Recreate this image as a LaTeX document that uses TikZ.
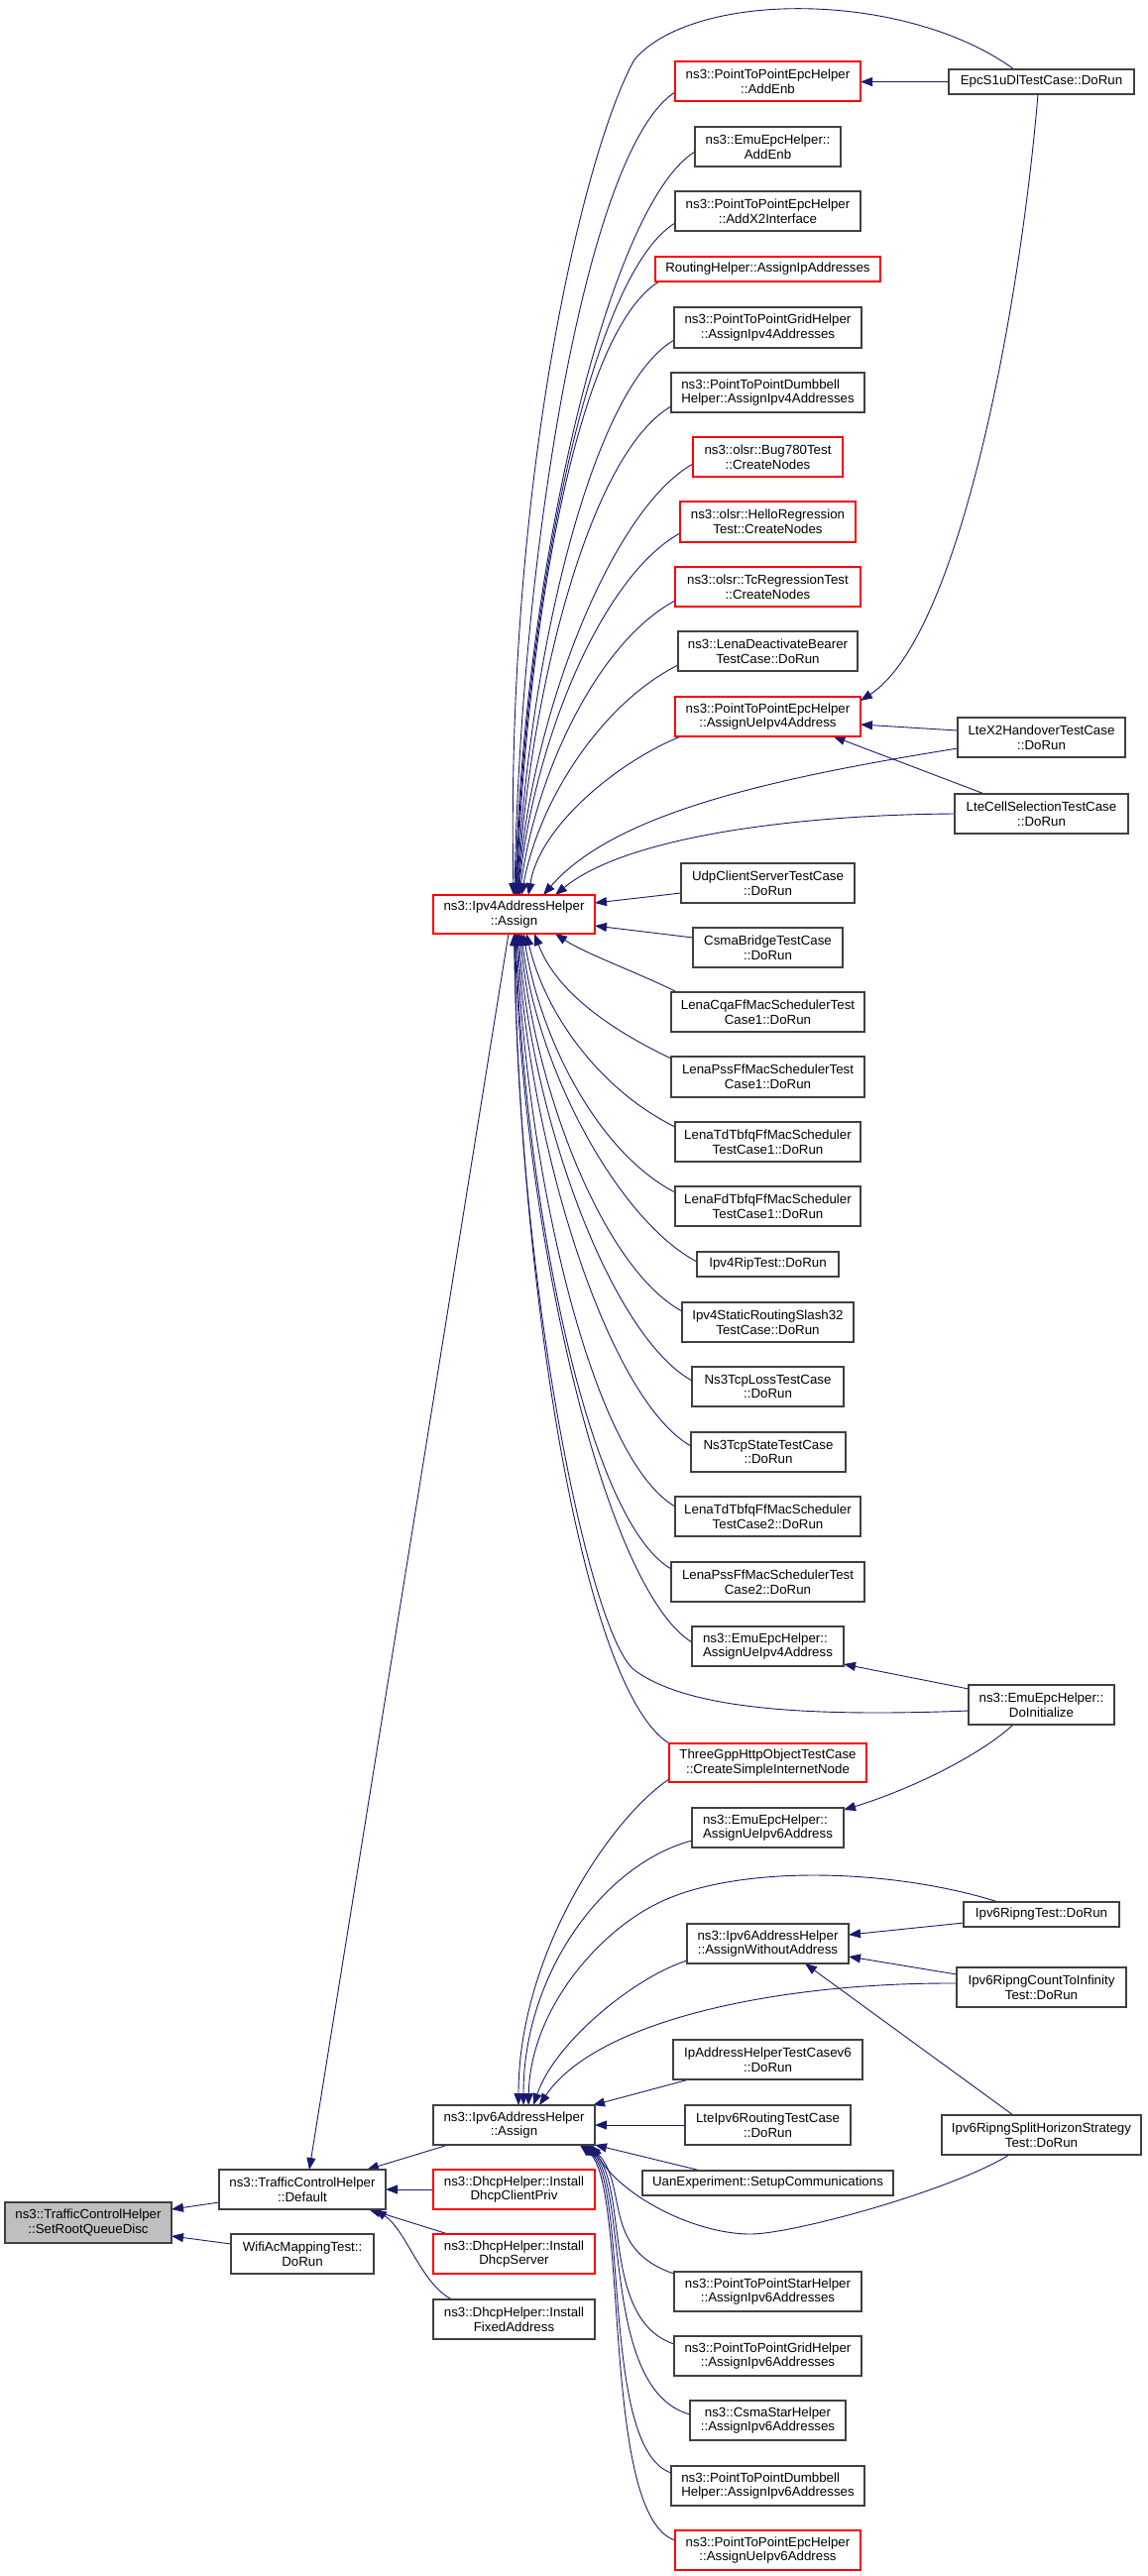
\documentclass[tikz,border=0pt]{standalone}
\usepackage{fontspec}
\setmainfont{Liberation Sans}
\usetikzlibrary{arrows.meta}
\definecolor{edgec}{RGB}{25,25,112}
\definecolor{boxred}{RGB}{255,0,0}
\definecolor{boxgray}{RGB}{191,191,191}
\pgfdeclarelayer{bg}
\pgfsetlayers{bg,main}
\begin{document}
\begin{tikzpicture}[x=1pt,y=-1pt,
  bx/.style={draw=black!75, line width=1.1pt, fill=white, inner sep=0pt, outer sep=0pt, align=center, font=\fontsize{13.3}{14.6}\selectfont},
  bxr/.style={bx, draw=boxred},
  e/.style={draw=edgec, line width=0.9pt, -{Triangle[length=12pt,width=9pt]}}]
\path[use as bounding box] (0,0) rectangle (1157,2599);

% left column
\node[bx, fill=boxgray, minimum width=168pt, minimum height=41pt] (SetRoot) at (89,2242.5) {ns3::TrafficControlHelper\\::SetRootQueueDisc};
\node[bx, minimum width=168pt, minimum height=40pt] (Default) at (305,2209) {ns3::TrafficControlHelper\\::Default};
\node[bx, minimum width=144pt, minimum height=40pt] (Wifi) at (305,2274) {WifiAcMappingTest::\\DoRun};
\node[bxr, minimum width=163pt, minimum height=39pt] (Ipv4A) at (518.5,922.5) {ns3::Ipv4AddressHelper\\::Assign};
\node[bx, minimum width=163pt, minimum height=40pt] (Ipv6A) at (518.5,2144) {ns3::Ipv6AddressHelper\\::Assign};
\node[bxr, minimum width=163pt, minimum height=40pt] (DhcpCP) at (518.5,2209) {ns3::DhcpHelper::Install\\DhcpClientPriv};
\node[bxr, minimum width=163pt, minimum height=40pt] (DhcpS) at (518.5,2274) {ns3::DhcpHelper::Install\\DhcpServer};
\node[bx, minimum width=163pt, minimum height=40pt] (DhcpF) at (518.5,2340) {ns3::DhcpHelper::Install\\FixedAddress};

% middle column
\node[bxr, minimum width=187pt, minimum height=40pt] (m1) at (774.5,82) {ns3::PointToPointEpcHelper\\::AddEnb};
\node[bx, minimum width=147pt, minimum height=40pt] (m2) at (774.5,148) {ns3::EmuEpcHelper::\\AddEnb};
\node[bx, minimum width=187pt, minimum height=40pt] (m3) at (774.5,213) {ns3::PointToPointEpcHelper\\::AddX2Interface};
\node[bxr, minimum width=227pt, minimum height=25pt] (m4) at (774.5,271.5) {RoutingHelper::AssignIpAddresses};
\node[bx, minimum width=189pt, minimum height=41pt] (m5) at (774.5,330.5) {ns3::PointToPointGridHelper\\::AssignIpv4Addresses};
\node[bx, align=left, minimum width=195pt, minimum height=40pt] (m6) at (774.5,396) {ns3::PointToPointDumbbell\\Helper::AssignIpv4Addresses};
\node[bxr, minimum width=151pt, minimum height=40pt] (m7) at (774.5,461) {ns3::olsr::Bug780Test\\::CreateNodes};
\node[bxr, minimum width=177pt, minimum height=41pt] (m8) at (774.5,526.5) {ns3::olsr::HelloRegression\\Test::CreateNodes};
\node[bxr, minimum width=187pt, minimum height=40pt] (m9) at (774.5,592) {ns3::olsr::TcRegressionTest\\::CreateNodes};
\node[bx, minimum width=181pt, minimum height=40pt] (m10) at (774.5,657) {ns3::LenaDeactivateBearer\\TestCase::DoRun};
\node[bxr, minimum width=187pt, minimum height=40pt] (m11) at (774.5,723) {ns3::PointToPointEpcHelper\\::AssignUeIpv4Address};
\node[bx, minimum width=175pt, minimum height=40pt] (m12) at (774.5,891) {UdpClientServerTestCase\\::DoRun};
\node[bx, minimum width=151pt, minimum height=40pt] (m13) at (774.5,956) {CsmaBridgeTestCase\\::DoRun};
\node[bx, minimum width=195pt, minimum height=40pt] (m14) at (774.5,1021) {LenaCqaFfMacSchedulerTest\\Case1::DoRun};
\node[bx, minimum width=195pt, minimum height=41pt] (m15) at (774.5,1086.5) {LenaPssFfMacSchedulerTest\\Case1::DoRun};
\node[bx, minimum width=187pt, minimum height=40pt] (m16) at (774.5,1152) {LenaTdTbfqFfMacScheduler\\TestCase1::DoRun};
\node[bx, minimum width=187pt, minimum height=40pt] (m17) at (774.5,1217) {LenaFdTbfqFfMacScheduler\\TestCase1::DoRun};
\node[bx, minimum width=143pt, minimum height=25pt] (m18) at (774.5,1275.5) {Ipv4RipTest::DoRun};
\node[bx, minimum width=173pt, minimum height=40pt] (m19) at (774.5,1334) {Ipv4StaticRoutingSlash32\\TestCase::DoRun};
\node[bx, minimum width=153pt, minimum height=40pt] (m20) at (774.5,1399) {Ns3TcpLossTestCase\\::DoRun};
\node[bx, minimum width=156pt, minimum height=40pt] (m21) at (775,1465) {Ns3TcpStateTestCase\\::DoRun};
\node[bx, minimum width=187pt, minimum height=40pt] (m22) at (774.5,1530) {LenaTdTbfqFfMacScheduler\\TestCase2::DoRun};
\node[bx, minimum width=195pt, minimum height=40pt] (m23) at (774.5,1596) {LenaPssFfMacSchedulerTest\\Case2::DoRun};
\node[bx, align=left, minimum width=153pt, minimum height=40pt] (m24) at (774.5,1661) {ns3::EmuEpcHelper::\\AssignUeIpv4Address};
\node[bxr, minimum width=199pt, minimum height=39pt] (m25) at (774.5,1778.5) {ThreeGppHttpObjectTestCase\\::CreateSimpleInternetNode};
\node[bx, align=left, minimum width=153pt, minimum height=40pt] (m26) at (774.5,1844) {ns3::EmuEpcHelper::\\AssignUeIpv6Address};
\node[bx, minimum width=163pt, minimum height=40pt] (m27) at (774.5,1961) {ns3::Ipv6AddressHelper\\::AssignWithoutAddress};
\node[bx, minimum width=191pt, minimum height=40pt] (m28) at (774.5,2078) {IpAddressHelperTestCasev6\\::DoRun};
\node[bx, minimum width=167pt, minimum height=40pt] (m29) at (774.5,2144) {LteIpv6RoutingTestCase\\::DoRun};
\node[bx, minimum width=253pt, minimum height=25pt] (m30) at (774.5,2202.5) {UanExperiment::SetupCommunications};
\node[bx, minimum width=189pt, minimum height=40pt] (m31) at (774.5,2312) {ns3::PointToPointStarHelper\\::AssignIpv6Addresses};
\node[bx, minimum width=189pt, minimum height=40pt] (m32) at (774.5,2377) {ns3::PointToPointGridHelper\\::AssignIpv6Addresses};
\node[bx, minimum width=157pt, minimum height=40pt] (m33) at (774.5,2442) {ns3::CsmaStarHelper\\::AssignIpv6Addresses};
\node[bx, align=left, minimum width=195pt, minimum height=40pt] (m34) at (774.5,2508) {ns3::PointToPointDumbbell\\Helper::AssignIpv6Addresses};
\node[bxr, minimum width=187pt, minimum height=40pt] (m35) at (774.5,2573) {ns3::PointToPointEpcHelper\\::AssignUeIpv6Address};

% right column
\node[bx, minimum width=187pt, minimum height=25pt] (r1) at (1050.5,82.5) {EpcS1uDlTestCase::DoRun};
\node[bx, minimum width=169pt, minimum height=40pt] (r2) at (1050.5,744) {LteX2HandoverTestCase\\::DoRun};
\node[bx, minimum width=175pt, minimum height=40pt] (r3) at (1050.5,821) {LteCellSelectionTestCase\\::DoRun};
\node[bx, minimum width=147pt, minimum height=40pt] (r4) at (1050.5,1720) {ns3::EmuEpcHelper::\\DoInitialize};
\node[bx, minimum width=157pt, minimum height=25pt] (r5) at (1050.5,1931.5) {Ipv6RipngTest::DoRun};
\node[bx, minimum width=171pt, minimum height=40pt] (r6) at (1050.5,2005) {Ipv6RipngCountToInfinity\\Test::DoRun};
\node[bx, minimum width=201pt, minimum height=40pt] (r7) at (1050.5,2154) {Ipv6RipngSplitHorizonStrategy\\Test::DoRun};

\begin{pgfonlayer}{bg}
\fill[white] (0,0) rectangle (1157,2599);

% edges into Ipv4A from above
\draw[e] ([xshift=-27.5pt]r1.north) .. controls (913,-10) and (700,-10) .. (640,60) .. controls (590,150) and (510,480) .. ([xshift=-0.5pt]Ipv4A.north);
\draw[e] ([yshift=-11pt]m1.west) .. controls (591,150) and (525,563) .. ([xshift=0.5pt]Ipv4A.north);
\draw[e] ([yshift=-5pt]m2.west) .. controls (612,208) and (527,588) .. ([xshift=1.5pt]Ipv4A.north);
\draw[e] ([yshift=-12pt]m3.west) .. controls (594,278) and (529,618) .. ([xshift=2pt]Ipv4A.north);
\draw[e] ([xshift=4pt]m4.south west) .. controls (580,335) and (531,643) .. ([xshift=2.5pt]Ipv4A.north);
\draw[e] ([yshift=-12.5pt]m5.west) .. controls (596,392) and (533,668) .. ([xshift=3pt]Ipv4A.north);
\draw[e] ([yshift=-14pt]m6.west) .. controls (595,457) and (535,696) .. ([xshift=3.5pt]Ipv4A.north);
\draw[e] ([yshift=-7pt]m7.west) .. controls (618,513) and (536,720) .. ([xshift=4pt]Ipv4A.north);
\draw[e] ([yshift=-11.5pt]m8.west) .. controls (607,581) and (538,750) .. ([xshift=4.5pt]Ipv4A.north);
\draw[e] ([yshift=-14pt]m9.west) .. controls (604,647) and (541,778) .. ([xshift=5.5pt]Ipv4A.north);
\draw[e] ([yshift=-14pt]m10.west) .. controls (608,709) and (544,806) .. ([xshift=7.5pt]Ipv4A.north);
\draw[e] ([xshift=6pt]m11.south west) .. controls (630,765) and (545,830) .. ([xshift=14.5pt]Ipv4A.north);
\draw[e] ([yshift=-11pt]r2.west) .. controls (780,785) and (620,820) .. ([xshift=29.5pt]Ipv4A.north);
\draw[e] (r3.west) .. controls (800,822) and (630,845) .. ([xshift=41.5pt]Ipv4A.north);

% edges into P2P Epc nodes
\draw[e] (r1.west) -- (r1.west -| m1.east);
\draw[e] ([xshift=-3.5pt]r1.south) .. controls (1030,300) and (970,640) .. ([yshift=16pt]m11.east);
\draw[e] ([yshift=7pt]r2.west) -- ([yshift=-8pt]m11.east);
\draw[e] ([xshift=-57.5pt]r3.north) -- ([xshift=66pt]m11.south);

% edges into Ipv4A from below
\draw[e] ([yshift=-10pt]m12.west) -- ([yshift=11.5pt]Ipv4A.east);
\draw[e] ([yshift=10pt]m13.west) -- ([yshift=-11.5pt]Ipv4A.east);
\draw[e] ([xshift=6pt]m14.north west) .. controls (645,982) and (590,962) .. ([xshift=41.5pt]Ipv4A.south);
\draw[e] ([yshift=18.5pt]m15.west) .. controls (604,1033) and (559,995) .. ([xshift=20.5pt]Ipv4A.south);
\draw[e] ([yshift=15pt]m16.west) .. controls (606,1100) and (550,1024) .. ([xshift=12.5pt]Ipv4A.south);
\draw[e] ([yshift=14pt]m17.west) .. controls (605,1164) and (546,1052) .. ([xshift=9.5pt]Ipv4A.south);
\draw[e] ([yshift=2.5pt]m18.west) .. controls (625,1232) and (542,1081) .. ([xshift=7.5pt]Ipv4A.south);
\draw[e] ([yshift=11pt]m19.west) .. controls (609,1280) and (540,1102) .. ([xshift=6pt]Ipv4A.south);
\draw[e] ([yshift=6pt]m20.west) .. controls (617,1348) and (537,1131) .. ([xshift=4.5pt]Ipv4A.south);
\draw[e] ([yshift=6pt]m21.west) .. controls (614,1412) and (534,1159) .. ([xshift=3.5pt]Ipv4A.south);
\draw[e] ([yshift=10pt]m22.west) .. controls (597,1471) and (532,1185) .. ([xshift=2.5pt]Ipv4A.south);
\draw[e] ([yshift=13pt]m23.west) .. controls (591,1532) and (530,1211) .. ([xshift=1.5pt]Ipv4A.south);
\draw[e] ([yshift=4pt]m24.west) .. controls (610,1603) and (527,1242) .. ([xshift=1pt]Ipv4A.south);
\draw[e] (m25.north west) .. controls (585,1702) and (524,1285) .. (Ipv4A.south);
\draw[e] ([yshift=-6pt]r4.west) .. controls (800,1733) and (690,1722) .. (640,1685) .. controls (595,1650) and (522,1300) .. ([xshift=0.5pt]Ipv4A.south);

% Ipv4A to Default
\draw[e] ([xshift=-5.5pt]Ipv4A.south) -- ([xshift=7pt]Default.north);

% DoInitialize edges
\draw[e] ([yshift=16pt]r4.west) -- ([yshift=-18pt]m24.east);
\draw[e] ([xshift=-28.5pt]r4.south) .. controls (990,1770) and (920,1805) .. ([yshift=18pt]m26.east);

% edges into Ipv6A
\draw[e] ([yshift=-16.5pt]m25.west) .. controls (615,1835) and (523,1973) .. ([xshift=4.5pt]Ipv6A.north);
\draw[e] ([yshift=-13pt]m26.west) .. controls (610,1880) and (528,1990) .. ([xshift=9.5pt]Ipv6A.north);
\draw[e] ([xshift=-43.5pt]r5.north) .. controls (900,1885) and (740,1880) .. (660,1922) .. controls (600,1953) and (535,2030) .. ([xshift=14.5pt]Ipv6A.north);
\draw[e] ([yshift=-17pt]m27.west) .. controls (640,1995) and (560,2060) .. ([xshift=19.5pt]Ipv6A.north);
\draw[e] ([yshift=4pt]r6.west) .. controls (780,2000) and (600,2040) .. ([xshift=25.5pt]Ipv6A.north);
\draw[e] ([xshift=16pt]m28.south west) -- ([xshift=-2pt]Ipv6A.north east);
\draw[e] (m29.west) -- (Ipv6A.east);
\draw[e] ([xshift=59pt]m30.north west) -- (Ipv6A.south east);
\draw[e] ([xshift=-32.5pt]r7.south) .. controls (960,2210) and (800,2254) .. (757,2254) .. controls (700,2254) and (625,2215) .. ([xshift=78.5pt]Ipv6A.south);
\draw[e] ([yshift=-2pt]m31.north west) .. controls (605,2269) and (635,2205) .. ([xshift=75.5pt]Ipv6A.south);
\draw[e] ([yshift=12pt]m32.west) .. controls (605,2340) and (635,2205) .. ([xshift=72.5pt]Ipv6A.south);
\draw[e] ([yshift=6pt]m33.west) .. controls (605,2411) and (635,2205) .. ([xshift=70.5pt]Ipv6A.south);
\draw[e] ([yshift=13pt]m34.west) .. controls (605,2470) and (635,2205) .. ([xshift=68.5pt]Ipv6A.south);
\draw[e] ([yshift=10pt]m35.west) .. controls (605,2538) and (635,2205) .. ([xshift=66.5pt]Ipv6A.south);

% edges into AssignWithoutAddress
\draw[e] ([yshift=-8.5pt]r5.west) -- ([yshift=9pt]m27.east);
\draw[e] ([yshift=13pt]r6.west) -- ([yshift=-13pt]m27.east);
\draw[e] ([xshift=-28.5pt]r7.north) -- ([xshift=37.5pt]m27.south);

% left group
\draw[e] ([xshift=-66.5pt]Ipv6A.south) -- ([xshift=65pt]Default.north);
\draw[e] (DhcpCP.west) -- (Default.east);
\draw[e] ([xshift=15pt]DhcpS.north west) -- ([xshift=67pt]Default.south);
\draw[e] ([xshift=19pt]DhcpF.north west) .. controls (425,2305) and (410,2250) .. ([xshift=73pt]Default.south);
\draw[e] ([yshift=-13pt]Default.west) -- ([yshift=13.5pt]SetRoot.east);
\draw[e] ([yshift=10pt]Wifi.west) -- ([yshift=-13.5pt]SetRoot.east);
\end{pgfonlayer}
\end{tikzpicture}
\end{document}
